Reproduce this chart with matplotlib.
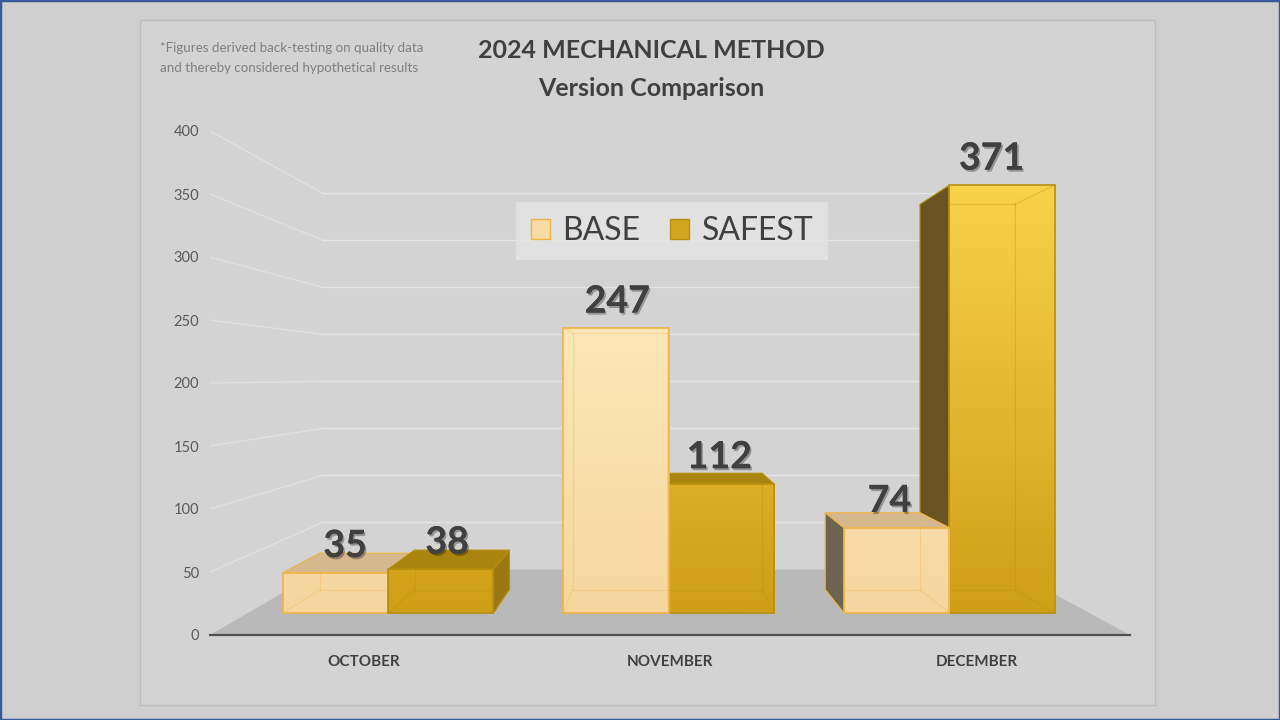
import matplotlib
matplotlib.use('Agg')
import matplotlib.pyplot as plt
import numpy as np
from matplotlib.patches import Polygon, Rectangle, Patch
from matplotlib.colors import LinearSegmentedColormap, Normalize
import matplotlib.patheffects as pe

categories = ['OCTOBER', 'NOVEMBER', 'DECEMBER']
series_names = ['BASE', 'SAFEST']
base_values = [35, 247, 74]
safest_values = [38, 112, 371]
y_ticks = [0, 50, 100, 150, 200, 250, 300, 350, 400]
title_lines = ['2024 MECHANICAL METHOD', 'Version Comparison']
note_text = '*Figures derived back-testing on quality data\nand thereby considered hypothetical results'

plt.rcParams['font.family'] = ['Lato', 'DejaVu Sans']

# perspective settings (vanishing point in data coords, depth fractions)
VP = (0.95, 205.0)
D_FRONT = 0.085
D_BACK = 0.176
D_WALL = 0.254
BAR_W = 0.375


def proj(x, y, d):
    return (x + d * (VP[0] - x), y + d * (VP[1] - y))


fig = plt.figure(figsize=(12.8, 7.2), dpi=100)
fig.patch.set_facecolor('#cfcfcf')
fig.patches.append(Rectangle((140 / 1280, 1 - 705 / 720), 1015 / 1280, 685 / 720,
                             transform=fig.transFigure, facecolor='#d3d3d3',
                             edgecolor='#bdbdbd', lw=1, zorder=-2))
fig.patches.append(Rectangle((0, 0), 1, 1, transform=fig.transFigure, fill=False,
                             edgecolor='#3b5998', lw=2.5, zorder=-1))

ax = fig.add_axes([210 / 1280, 85 / 720, 920 / 1280, 504 / 720])
ax.set_facecolor('none')

# floor
xl, xr = -0.5, 2.5
floor = [(xl, 0), (xr, 0), proj(xr, 0, D_WALL), proj(xl, 0, D_WALL)]
ax.add_patch(Polygon(floor, closed=True, facecolor='#b9b9b9', edgecolor='none', zorder=1))

# gridlines on side wall and back wall
for v in y_ticks[1:]:
    p0 = (xl, v)
    p1 = proj(xl, v, D_WALL)
    p2 = proj(xr, v, D_WALL)
    ax.plot([p0[0], p1[0]], [p0[1], p1[1]], color='white', alpha=0.28, lw=1, zorder=1.5)
    ax.plot([p1[0], p2[0]], [p1[1], p2[1]], color='white', alpha=0.4, lw=1, zorder=1.5)

cmaps = [
    LinearSegmentedColormap.from_list('base', ['#f6d69e', '#fde8ba']),
    LinearSegmentedColormap.from_list('safe', ['#cf9f16', '#fbd64e']),
]
norms = [Normalize(0, 260), Normalize(0, 400)]
edge_cols = ['#f0b445', '#b8900e']
top_cols = ['#d6b88e', '#a9850f']
left_cols = ['#6f6452', '#6a5322']
right_cols = ['#c9a878', '#9a7812']
legend_cols = ['#f9dba5', '#d4a520']

bars = []
for i in range(len(categories)):
    for s, vals in enumerate([base_values, safest_values]):
        x0 = i - BAR_W if s == 0 else i
        bars.append((i, s, x0, x0 + BAR_W, vals[i]))

# painter's order: far from vanishing x first
bars.sort(key=lambda b: -abs((b[2] + b[3]) / 2 - VP[0]))

z = 2.0
for (i, s, x0, x1, h) in bars:
    f00 = proj(x0, 0, D_FRONT); f10 = proj(x1, 0, D_FRONT)
    f11 = proj(x1, h, D_FRONT); f01 = proj(x0, h, D_FRONT)
    b00 = proj(x0, 0, D_BACK); b10 = proj(x1, 0, D_BACK)
    b11 = proj(x1, h, D_BACK); b01 = proj(x0, h, D_BACK)

    cont = ax.bar(f00[0], f01[1] - f00[1], bottom=f00[1], width=f10[0] - f00[0],
                  align='edge', color=legend_cols[s], edgecolor='none', zorder=z)
    rect = cont.patches[0]
    grad = np.linspace(0, h, 100).reshape(-1, 1)
    im = ax.imshow(grad, extent=[f00[0], f10[0], f00[1], f01[1]], origin='lower',
                   cmap=cmaps[s], norm=norms[s], aspect='auto', zorder=z + 0.05,
                   interpolation='bilinear')
    im.set_clip_path(rect)
    ax.add_patch(Rectangle((f00[0], f00[1]), f10[0] - f00[0], f01[1] - f00[1],
                           fill=False, edgecolor=edge_cols[s], lw=1.2, zorder=z + 0.3))
    # see-through back edges
    for a, b in [(b00, b10), (b10, b11), (b11, b01), (b01, b00),
                 (f00, b00), (f10, b10), (f11, b11), (f01, b01)]:
        ax.plot([a[0], b[0]], [a[1], b[1]], color=edge_cols[s], alpha=0.35, lw=0.8,
                zorder=z + 0.1)
    # visible sides
    if VP[0] > f10[0]:
        ax.add_patch(Polygon([f10, b10, b11, f11], closed=True, facecolor=right_cols[s],
                             edgecolor=edge_cols[s], lw=0.8, zorder=z + 0.2))
    if VP[0] < f00[0]:
        ax.add_patch(Polygon([f00, b00, b01, f01], closed=True, facecolor=left_cols[s],
                             edgecolor=edge_cols[s], lw=0.8, zorder=z + 0.2))
    if VP[1] > f01[1]:
        ax.add_patch(Polygon([f01, f11, b11, b01], closed=True, facecolor=top_cols[s],
                             edgecolor=edge_cols[s], lw=0.8, zorder=z + 0.25))
    # value label
    xc_f = (f00[0] + f10[0]) / 2
    xc_b = (b00[0] + b10[0]) / 2
    ax.annotate(str(h), xy=(0.7 * xc_f + 0.3 * xc_b, f01[1]), xytext=(0, 7),
                textcoords='offset points', ha='center', va='bottom',
                fontsize=27, fontweight='bold', color='#404040', zorder=20,
                path_effects=[pe.withSimplePatchShadow(offset=(1.2, -1.5),
                                                       shadow_rgbFace='#000000',
                                                       alpha=0.3), pe.Normal()])
    z += 1

ax.set_xlim(xl, xr)
ax.set_ylim(0, 400)
ax.set_yticks(y_ticks)
ax.set_xticks(range(len(categories)))
ax.set_xticklabels(categories, fontweight='bold', fontsize=11, color='#404040')
ax.tick_params(axis='y', length=0, pad=8, labelsize=10.5, labelcolor='#595959')
ax.tick_params(axis='x', length=0, pad=14.5)
for sp in ['left', 'right', 'top']:
    ax.spines[sp].set_visible(False)
ax.spines['bottom'].set_color('#505050')
ax.spines['bottom'].set_linewidth(1.6)
ax.spines['bottom'].set_zorder(30)

handles = [Patch(facecolor=legend_cols[0], edgecolor=edge_cols[0]),
           Patch(facecolor=legend_cols[1], edgecolor=edge_cols[1])]
leg = fig.legend(handles, series_names, loc='center',
                 bbox_to_anchor=(672 / 1280, 1 - 231 / 720), ncol=2, frameon=True,
                 facecolor='#e6e6e6', edgecolor='none', framealpha=0.75, fancybox=False,
                 prop={'family': 'Lato', 'size': 23}, labelcolor='#404040',
                 handlelength=0.6, handleheight=0.6, handletextpad=0.38,
                 columnspacing=0.95, borderpad=0.45)

fig.text(651 / 1280, 1 - 51 / 720, title_lines[0], ha='center', va='center',
         fontsize=18, fontweight='bold', color='#404040')
fig.text(651 / 1280, 1 - 88 / 720, title_lines[1], ha='center', va='center',
         fontsize=18, fontweight='bold', color='#404040')
fig.text(160 / 1280, 1 - 42 / 720, note_text, ha='left', va='top', fontsize=9.6,
         color='#808080', linespacing=1.75)

fig.savefig('out.png', dpi=100, facecolor=fig.get_facecolor())
